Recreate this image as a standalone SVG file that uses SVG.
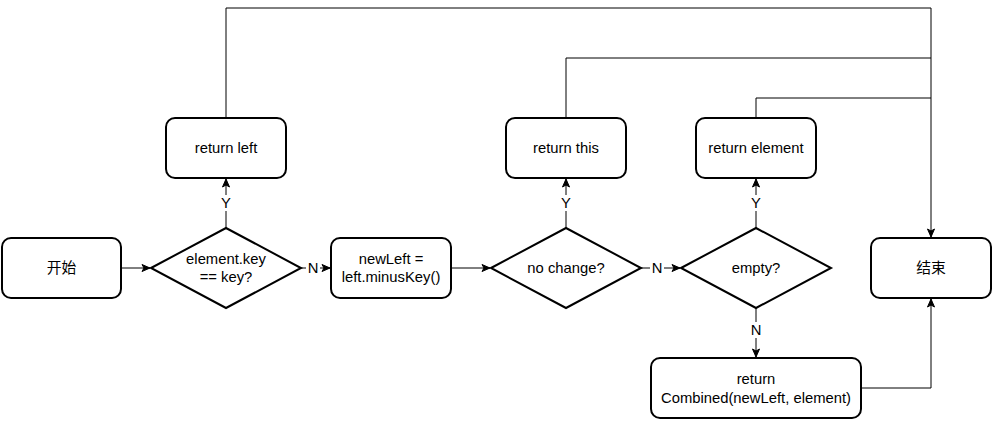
<svg xmlns="http://www.w3.org/2000/svg" width="994" height="422" viewBox="0 0 994 422">
<style>
.node rect,.node polygon{fill:#fff;stroke:#000;stroke-width:2}
.c{fill:none;stroke:#000;stroke-width:1}
text{font-family:"Liberation Sans",Arial,"Noto Sans CJK SC",sans-serif;font-size:14.8px;fill:#000;text-anchor:middle;dominant-baseline:central}
.lb{fill:#fff;stroke:none}
</style>
<defs>
<marker id="a" markerUnits="userSpaceOnUse" markerWidth="10" markerHeight="10" viewBox="0 0 10 10" refX="9" refY="5" orient="auto">
<path d="M1,1.5 L9,5 L1,8.5 L3,5 Z" fill="#000" stroke="#000" stroke-width="1"/>
</marker>
</defs>
<rect width="994" height="422" fill="#fff"/>
<g id="connectors">
<path class="c" d="M121,268 L150,268" marker-end="url(#a)"/>
<path class="c" d="M301,268 L330,268" marker-end="url(#a)"/>
<path class="c" d="M451,268 L490,268" marker-end="url(#a)"/>
<path class="c" d="M641,268 L680,268" marker-end="url(#a)"/>
<path class="c" d="M226,228 L226,179" marker-end="url(#a)"/>
<path class="c" d="M566,228 L566,179" marker-end="url(#a)"/>
<path class="c" d="M756,228 L756,179" marker-end="url(#a)"/>
<path class="c" d="M756,308 L756,357" marker-end="url(#a)"/>
<path class="c" d="M226,118 L226,8 L931,8 L931,237" marker-end="url(#a)"/>
<path class="c" d="M566,118 L566,58 L931,58"/>
<path class="c" d="M756,118 L756,98 L931,98"/>
<path class="c" d="M861,388 L931,388 L931,299" marker-end="url(#a)"/>
<rect class="lb" x="306" y="260" width="14" height="16"/>
<text x="313" y="268">N</text>
<rect class="lb" x="650" y="260" width="14" height="16"/>
<text x="657" y="268">N</text>
<rect class="lb" x="219" y="195" width="14" height="16"/>
<text x="226" y="203">Y</text>
<rect class="lb" x="559" y="195" width="14" height="16"/>
<text x="566" y="203">Y</text>
<rect class="lb" x="749" y="195" width="14" height="16"/>
<text x="756" y="203">Y</text>
<rect class="lb" x="749" y="322" width="14" height="16"/>
<text x="756" y="330">N</text>
</g>
<g id="start" class="node"><rect x="2" y="238" width="119" height="60" rx="9"/><text x="61.5" y="268">开始</text></g>
<g id="d1" class="node"><polygon points="151,268 226,228 301,268 226,308"/><text x="226" y="259">element.key</text><text x="226" y="277">== key?</text></g>
<g id="newleft" class="node"><rect x="331" y="238" width="120" height="60" rx="9"/><text x="391" y="259">newLeft =</text><text x="391" y="277">left.minusKey()</text></g>
<g id="d2" class="node"><polygon points="491,268 566,228 641,268 566,308"/><text x="566" y="268">no change?</text></g>
<g id="d3" class="node"><polygon points="681,268 756,228 831,268 756,308"/><text x="756" y="268">empty?</text></g>
<g id="rleft" class="node"><rect x="166" y="118" width="120" height="60" rx="9"/><text x="226" y="148">return left</text></g>
<g id="rthis" class="node"><rect x="506" y="118" width="120" height="60" rx="9"/><text x="566" y="148">return this</text></g>
<g id="relem" class="node"><rect x="696" y="118" width="120" height="60" rx="9"/><text x="756" y="148">return element</text></g>
<g id="end" class="node"><rect x="871" y="238" width="120" height="60" rx="9"/><text x="931" y="268">结束</text></g>
<g id="comb" class="node"><rect x="651" y="358" width="210" height="60" rx="9"/><text x="756" y="379">return</text><text x="756" y="398">Combined(newLeft, element)</text></g>
</svg>
